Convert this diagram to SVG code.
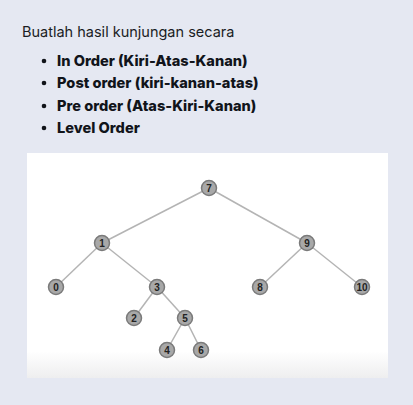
<svg xmlns="http://www.w3.org/2000/svg" width="413" height="405" viewBox="0 0 413 405">
<defs>
<style>
.t{font-family:Inter,"Noto Sans",sans-serif;fill:#1a1d24}
.b{font-weight:800;font-size:14.6px;fill:#11141a}
.n circle{fill:#a8a8a8;stroke:#7a7a7a;stroke-width:1.5}
.n text{font-family:"Liberation Sans",Arial,sans-serif;font-weight:700;font-size:10px;fill:#222;text-anchor:middle}
.e line{stroke:#b4b4b4;stroke-width:1.5}
</style>
<linearGradient id="bg" x1="0" y1="0" x2="0" y2="1">
<stop offset="0.88" stop-color="#ffffff"/>
<stop offset="1" stop-color="#eeeeef"/>
</linearGradient>
</defs>
<rect width="413" height="405" fill="#e5e8f2"/>
<text class="t" x="22" y="37" font-size="14.5">Buatlah hasil kunjungan secara</text>
<g class="t b">
<circle cx="44" cy="61" r="2.3"/><text x="57" y="66">In Order (Kiri-Atas-Kanan)</text>
<circle cx="44" cy="83" r="2.3"/><text x="57" y="88">Post order (kiri-kanan-atas)</text>
<circle cx="44" cy="106" r="2.3"/><text x="57" y="111">Pre order (Atas-Kiri-Kanan)</text>
<circle cx="44" cy="128" r="2.3"/><text x="57" y="133">Level Order</text>
</g>
<rect x="27" y="153" width="361" height="225" fill="url(#bg)"/>
<g class="e" id="connectors">
<line x1="209" y1="188" x2="102" y2="243"/>
<line x1="209" y1="188" x2="307" y2="243"/>
<line x1="102" y1="243" x2="56" y2="287"/>
<line x1="102" y1="243" x2="157" y2="287"/>
<line x1="307" y1="243" x2="260" y2="287"/>
<line x1="307" y1="243" x2="362" y2="287"/>
<line x1="157" y1="287" x2="134" y2="318"/>
<line x1="157" y1="287" x2="185" y2="318"/>
<line x1="185" y1="318" x2="167" y2="350"/>
<line x1="185" y1="318" x2="201" y2="350"/>
</g>
<g class="n" id="n7"><circle cx="209" cy="188" r="7.5"/><text x="209" y="191.5">7</text></g>
<g class="n" id="n1"><circle cx="102" cy="243" r="7.5"/><text x="102" y="246.5">1</text></g>
<g class="n" id="n9"><circle cx="307" cy="243" r="7.5"/><text x="307" y="246.5">9</text></g>
<g class="n" id="n0"><circle cx="56" cy="287" r="7.5"/><text x="56" y="290.5">0</text></g>
<g class="n" id="n3"><circle cx="157" cy="287" r="7.5"/><text x="157" y="290.5">3</text></g>
<g class="n" id="n8"><circle cx="260" cy="287" r="7.5"/><text x="260" y="290.5">8</text></g>
<g class="n" id="n10"><circle cx="362" cy="287" r="7.5"/><text x="362" y="290.5">10</text></g>
<g class="n" id="n2"><circle cx="134" cy="318" r="7.5"/><text x="134" y="321.5">2</text></g>
<g class="n" id="n5"><circle cx="185" cy="318" r="7.5"/><text x="185" y="321.5">5</text></g>
<g class="n" id="n4"><circle cx="167" cy="350" r="7.5"/><text x="167" y="353.5">4</text></g>
<g class="n" id="n6"><circle cx="201" cy="350" r="7.5"/><text x="201" y="353.5">6</text></g>
</svg>
